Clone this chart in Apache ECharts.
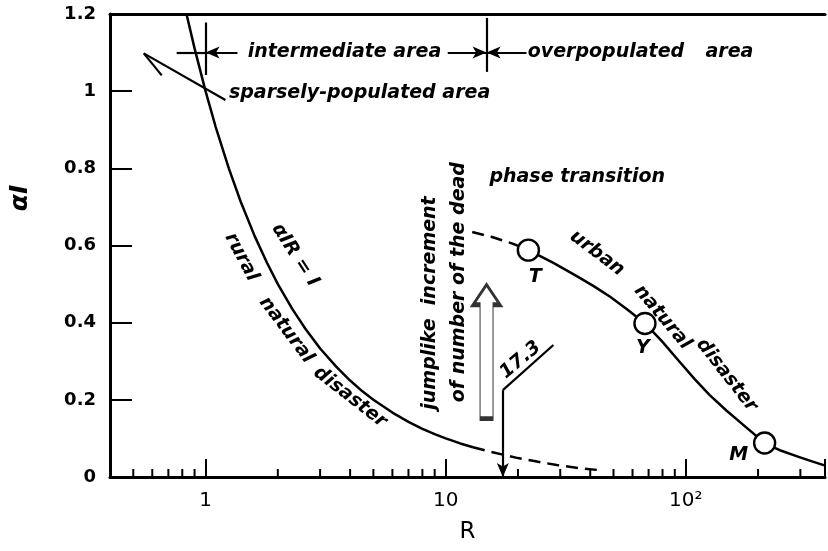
<!DOCTYPE html>
<html>
<head>
<meta charset="utf-8">
<script src="https://cdn.jsdelivr.net/npm/echarts@6/dist/echarts.min.js"></script>
<style>
  html, body { margin: 0; padding: 0; background: #fff; }
  #main { width: 828px; height: 551px; }
</style>
</head>
<body>
<div id="main"></div>
<script>
var FONT = 'DejaVu Sans';

// x axis (log) label values and minor tick positions
var majorLabels = { 1: '1', 10: '10', 100: '10²' };
var minorTicks = [0.5, 0.6, 0.7, 0.8, 0.9, 2, 3, 4, 5, 6, 7, 8, 9,
                  20, 30, 40, 50, 60, 70, 80, 90, 200, 300];

// curve  alpha*R = 1 (rural)
var ruralSolid = [[0.833, 1.2], [0.9, 1.111], [1, 1.0], [1.1, 0.909], [1.25, 0.8], [1.4, 0.714],
                  [1.6, 0.625], [1.8, 0.556], [2, 0.5], [2.3, 0.435], [2.6, 0.385], [3, 0.333],
                  [3.5, 0.286], [4, 0.25], [4.5, 0.222], [5, 0.2], [6, 0.167], [7, 0.143],
                  [8, 0.125], [9, 0.111], [10, 0.1], [11.5, 0.087], [13, 0.077]];
var ruralDash = [[13, 0.077], [15, 0.067], [17.3, 0.058], [20, 0.049], [24, 0.04],
                 [29, 0.031], [36, 0.023], [45, 0.017]];

// urban curve
var urbanDash = [[12.9, 0.635], [15.6, 0.622], [19, 0.605], [22.1, 0.588]];
var urbanSolid = [[22.1, 0.588], [28.1, 0.555], [35.3, 0.52], [41.5, 0.494], [48.4, 0.467],
                  [56.9, 0.435], [67.6, 0.398], [79.5, 0.352], [94.4, 0.298], [108.9, 0.2535],
                  [125.8, 0.2123], [148, 0.1718], [174, 0.1345], [213, 0.088], [250, 0.068],
                  [289, 0.054], [333, 0.041], [378, 0.03]];

// marked cities
var cityNames = ['T', 'Y', 'M'];
var cityPoints = [[22.1, 0.588], [67.6, 0.398], [213, 0.088]];

// text notes: [R, alpha, text, rotate]
var notes = [
  [3.79, 1.101, 'intermediate area', 0],
  [46.5, 1.101, 'overpopulated', 0],
  [152, 1.101, 'area', 0],
  [4.38, 0.995, 'sparsely-populated area', 0],
  [35.3, 0.777, 'phase transition', 0],
  [8.6, 0.451, 'jumplike  increment', 90],
  [11.4, 0.505, 'of number of the dead', 90],
  [20.5, 0.303, '17.3', 40],
  [42.7, 0.58, 'urban', -37],
  [80, 0.414, 'natural', -50],
  [148, 0.264, 'disaster', -52],
  [2.36, 0.575, 'αIR = I', -57],
  [1.41, 0.57, 'rural', -62],
  [2.17, 0.381, 'natural', -53],
  [4.0, 0.207, 'disaster', -38],
  [23.6, 0.518, 'T', 0],
  [66.3, 0.334, 'Y', 0],
  [166, 0.057, 'M', 0]
];

// guide segments [[R1, a1], [R2, a2], arrowAtEnd]
var guides = [
  [[1, 1.178], [1, 1.042], false],
  [[0.758, 1.1], [1, 1.1], false],
  [[1.358, 1.1], [1, 1.1], true],
  [[14.8, 1.19], [14.8, 1.05], false],
  [[10.2, 1.1], [14.8, 1.1], true],
  [[21.7, 1.1], [14.8, 1.1], true],
  [[1.21, 0.977], [0.553, 1.098], false],
  [[0.553, 1.098], [0.657, 1.041], false],
  [[17.3, 0.225], [17.3, 0.0], true],
  [[17.3, 0.225], [28.1, 0.342], false]
];

// big hollow arrow (jumplike increment)
var jumpArrow = [[14.8, 0.325]];

var chart = echarts.init(document.getElementById('main'));

var lineBase = { type: 'line', showSymbol: false, symbol: 'none', smooth: false,
  xAxisIndex: 0, yAxisIndex: 0, silent: true };

var option = {
  animation: false,
  backgroundColor: '#fff',
  grid: { left: 110, right: 0, top: 14, bottom: 74 },
  xAxis: [{
    type: 'log', logBase: 10, min: 0.4, max: 380,
    name: 'R', nameLocation: 'middle', nameGap: 44,
    nameTextStyle: { fontFamily: FONT, fontSize: 23, color: '#000' },
    axisLine: { lineStyle: { color: '#000', width: 3 } },
    axisTick: { inside: true, length: 18, lineStyle: { color: '#000', width: 2 } },
    axisLabel: {
      margin: 14, fontFamily: FONT, fontSize: 20, color: '#000',
      formatter: function (v) {
        var k = Math.round(v * 1000) / 1000;
        return majorLabels[k] || '';
      }
    },
    splitLine: { show: false }
  }, {
    type: 'value', position: 'top', min: 0, max: 1,
    axisLine: { show: true, lineStyle: { color: '#000', width: 3 } },
    axisTick: { show: false }, axisLabel: { show: false }, splitLine: { show: false }
  }],
  yAxis: {
    type: 'value', min: 0, max: 1.2, interval: 0.2,
    axisLine: { show: true, lineStyle: { color: '#000', width: 3 } },
    axisTick: { show: true, inside: true, length: 22, lineStyle: { color: '#000', width: 2 } },
    axisLabel: {
      margin: 14, fontFamily: FONT, fontSize: 18, fontWeight: 'bold', color: '#000',
      formatter: function (v) {
        if (v === 0) return '0';
        if (Math.abs(v - 1) < 1e-9) return '1';
        return String(Math.round(v * 10) / 10);
      }
    },
    splitLine: { show: false }
  },
  graphic: [{
    type: 'text', x: 20, y: 198, rotation: Math.PI / 2,
    style: { text: 'αI', fontFamily: FONT, fontSize: 25, fontWeight: 'bold', fontStyle: 'italic',
             fill: '#000', align: 'center', verticalAlign: 'middle' }
  }],
  series: [
    {
      type: 'custom', silent: true, clip: false,
      data: minorTicks.map(function (v) { return [v, 0]; }),
      renderItem: function (params, api) {
        var p = api.coord([api.value(0), 0]);
        return { type: 'line', shape: { x1: p[0], y1: p[1], x2: p[0], y2: p[1] - 8 },
                 style: { stroke: '#000', lineWidth: 2 } };
      }
    },
    Object.assign({}, lineBase, { data: ruralSolid,
      lineStyle: { color: '#000', width: 2.5, join: 'round' } }),
    Object.assign({}, lineBase, { data: ruralDash,
      lineStyle: { color: '#000', width: 2.5, type: [12, 7] } }),
    Object.assign({}, lineBase, { data: urbanDash,
      lineStyle: { color: '#000', width: 2.5, type: [12, 7] } }),
    Object.assign({}, lineBase, { data: urbanSolid,
      lineStyle: { color: '#000', width: 2.5, join: 'round' },
      markLine: {
        silent: true, symbol: ['none', 'none'], label: { show: false },
        lineStyle: { color: '#000', width: 2.2, type: 'solid' },
        data: guides.map(function (g) {
          return [{ coord: g[0], symbol: 'none' },
                  { coord: g[1], symbol: g[2] ? 'arrow' : 'none', symbolSize: [9, 14] }];
        })
      }
    }),
    {
      type: 'scatter', silent: true, z: 5,
      data: jumpArrow,
      symbol: 'path://M10,0 L20,15 L14.8,15 L14.8,100 L5.2,100 L5.2,15 L0,15 Z',
      symbolKeepAspect: false,
      symbolSize: [27, 134],
      itemStyle: { color: '#fff', borderColor: '#000', borderWidth: 2.2 }
    },
    {
      type: 'scatter', silent: true, z: 6,
      data: cityPoints.map(function (p, i) { return { name: cityNames[i], value: p }; }),
      symbol: 'circle', symbolSize: 21,
      itemStyle: { color: '#fff', borderColor: '#000', borderWidth: 2.4, opacity: 1 }
    },
    {
      type: 'scatter', silent: true, z: 7, clip: false,
      symbolSize: 0, itemStyle: { color: '#000' },
      data: notes.map(function (n) {
        return { value: [n[0], n[1]], label: { formatter: n[2], rotate: n[3] } };
      }),
      label: {
        show: true, position: 'inside', align: 'center', verticalAlign: 'middle',
        fontFamily: FONT, fontSize: 19, fontWeight: 'bold', fontStyle: 'italic',
        color: '#000', textBorderWidth: 0, opacity: 1
      }
    }
  ]
};

chart.setOption(option);
</script>
</body>
</html>
